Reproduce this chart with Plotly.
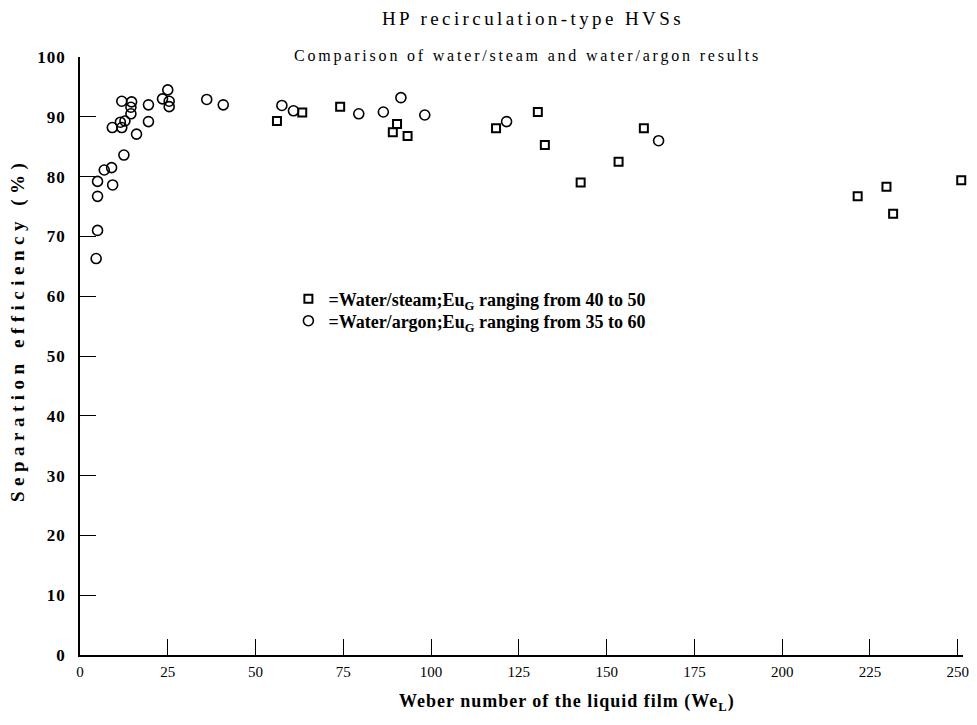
import plotly.graph_objects as go

# Water/steam (squares)
steam_x = [56.1, 63.3, 74.1, 89.1, 90.3, 93.3, 118.5, 130.4, 132.4, 142.6, 153.4, 160.6, 221.5, 229.7, 231.6, 251.0]
steam_y = [89.3, 90.7, 91.7, 87.4, 88.8, 86.8, 88.1, 90.8, 85.3, 79.0, 82.5, 88.1, 76.7, 78.3, 73.8, 79.4]

# Water/argon (circles)
argon_x = [4.6, 5.0, 5.0, 5.0, 6.9, 9.0, 9.3, 9.2, 11.9, 11.5, 12.8, 11.9, 14.5, 14.5, 14.7, 12.5,
           16.1, 19.5, 19.5, 23.5, 25.0, 25.4, 25.4, 36.1, 40.8, 57.5, 60.8, 79.4, 86.4, 91.4, 98.2,
           121.5, 164.8]
argon_y = [66.3, 71.0, 76.7, 79.2, 81.1, 81.5, 78.6, 88.2, 88.2, 89.1, 89.3, 92.6, 90.5, 91.6, 92.5, 83.6,
           87.1, 89.2, 92.0, 93.0, 94.5, 92.6, 91.7, 92.9, 92.0, 91.9, 91.0, 90.5, 90.8, 93.2, 90.3,
           89.2, 86.0]

x_ticks = [0, 25, 50, 75, 100, 125, 150, 175, 200, 225, 250]
y_ticks = [0, 10, 20, 30, 40, 50, 60, 70, 80, 90, 100]

FONT = "Liberation Serif"


def spaced(text, px):
    return '<span style="letter-spacing:%spx">%s</span>' % (px, text)


fig = go.Figure()
fig.add_trace(go.Scatter(
    x=steam_x, y=steam_y, mode="markers", cliponaxis=False, legend="legend",
    name="<b>=Water/steam;Eu<sub>G</sub> ranging from 40 to 50</b>",
    marker=dict(symbol="square-open", size=8, color="black", line=dict(width=2, color="black")),
))
fig.add_trace(go.Scatter(
    x=argon_x, y=argon_y, mode="markers", cliponaxis=False, legend="legend2",
    name="<b>=Water/argon;Eu<sub>G</sub> ranging from 35 to 60</b>",
    marker=dict(symbol="circle-open", size=10, color="black", line=dict(width=1.6, color="black")),
))

legend_common = dict(xanchor="left", yanchor="middle", bgcolor="rgba(0,0,0,0)",
                     font=dict(family=FONT, size=18, color="black"),
                     itemwidth=30, borderwidth=0)

fig.update_layout(
    template="none",
    width=977, height=725,
    margin=dict(l=72, r=22, t=49, b=78, autoexpand=False),
    paper_bgcolor="white", plot_bgcolor="white",
    font=dict(family=FONT, color="black", size=14),
    showlegend=True,
    legend=dict(x=0.236, y=0.5953, **legend_common),
    legend2=dict(x=0.236, y=0.5585, **legend_common),
    xaxis=dict(range=[0, 251.5], tickvals=x_ticks, ticktext=[str(v) for v in x_ticks],
               automargin=False,
               showgrid=False, zeroline=False, showline=True, linecolor="black", linewidth=1.5,
               ticks="inside", ticklen=16, tickcolor="black", tickwidth=1,
               tickfont=dict(family=FONT, size=15), ticklabelstandoff=2),
    yaxis=dict(range=[0, 100], tickvals=y_ticks,
               ticktext=["<b>" + spaced(str(v), 1) + "</b>" for v in y_ticks],
               automargin=False,
               showgrid=False, zeroline=False, showline=True, linecolor="black", linewidth=1.5,
               ticks="inside", ticklen=16, tickcolor="black", tickwidth=1,
               tickfont=dict(family=FONT, size=17), ticklabelstandoff=9),
    annotations=[
        dict(text=spaced("HP recirculation-type HVSs", 3.4), xref="paper", yref="paper",
             x=0.5125, y=1, yshift=39, xanchor="center", yanchor="middle", showarrow=False,
             font=dict(family=FONT, size=19)),
        dict(text=spaced("Comparison of water/steam and water/argon results", 2.8), xref="paper", yref="paper",
             x=0.507, y=1, yshift=1, xanchor="center", yanchor="middle", showarrow=False,
             font=dict(family=FONT, size=16)),
        dict(text="<b>" + spaced("Weber number of the liquid film (We<sub>L</sub>)", 1) + "</b>",
             xref="paper", yref="paper",
             x=0.552, y=0, yshift=-47, xanchor="center", yanchor="middle", showarrow=False,
             font=dict(family=FONT, size=18)),
        dict(text="<b>" + spaced("Separation efficiency (%)", 5.5) + "</b>",
             xref="paper", yref="paper", textangle=-90,
             x=0, xshift=-62, y=0.5435, xanchor="center", yanchor="middle", showarrow=False,
             font=dict(family=FONT, size=19)),
    ],
)

fig.write_html("out.html")
